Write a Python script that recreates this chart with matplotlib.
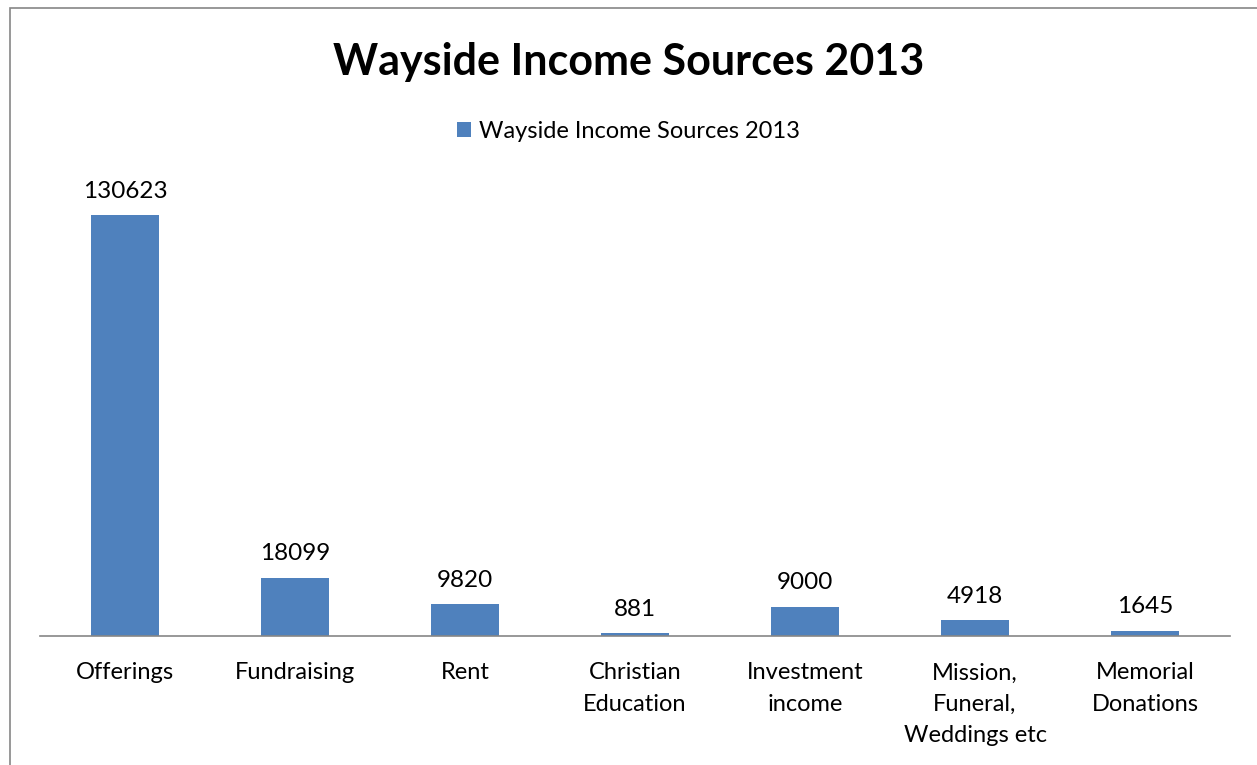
import matplotlib.pyplot as plt
from matplotlib.patches import Rectangle

categories = ["Offerings", "Fundraising", "Rent", "Christian\nEducation",
              "Investment\nincome", "Mission,\nFuneral,\nWeddings etc",
              "Memorial\nDonations"]
values = [130623, 18099, 9820, 881, 9000, 4918, 1645]
series_name = "Wayside Income Sources 2013"

plt.rcParams['font.family'] = ['Lato', 'DejaVu Sans']

fig = plt.figure(figsize=(12.57, 7.65), dpi=100)
# outer chart border
fig.patches.append(Rectangle((10 / 1257, -0.01), 1.0, (765 - 8) / 765 + 0.01,
                             transform=fig.transFigure, fill=False,
                             edgecolor='#868686', linewidth=1.2))

ax = fig.add_axes([40 / 1257, (765 - 636) / 765, 1190 / 1257, 451 / 765])
x = range(len(categories))
bars = ax.bar(x, values, width=0.4, color='#4F81BD', label=series_name, zorder=2)
for b, v in zip(bars, values):
    ax.text(b.get_x() + b.get_width() / 2, v + 4200, str(v),
            ha='center', va='bottom', fontsize=17.5, color='black')

ax.set_xlim(-0.5, 6.5)
ax.set_ylim(0, 140000)
ax.set_xticks(list(x))
ax.set_xticklabels(categories, fontsize=17, linespacing=1.6, va='top')
ax.tick_params(axis='x', length=0, pad=19)
ax.set_yticks([])
for s in ['top', 'right', 'left']:
    ax.spines[s].set_visible(False)
ax.spines['bottom'].set_color('#868686')
ax.spines['bottom'].set_linewidth(1.2)

fig.text(0.5, 1 - 62 / 765, series_name, ha='center', va='center',
         fontsize=31, fontweight='bold')
fig.legend(handles=[bars], labels=[series_name], loc='center',
           bbox_to_anchor=(0.5, 1 - 131 / 765), frameon=False, fontsize=17,
           handlelength=0.6, handleheight=0.6, handletextpad=0.35)

fig.savefig('out.png', dpi=100)
